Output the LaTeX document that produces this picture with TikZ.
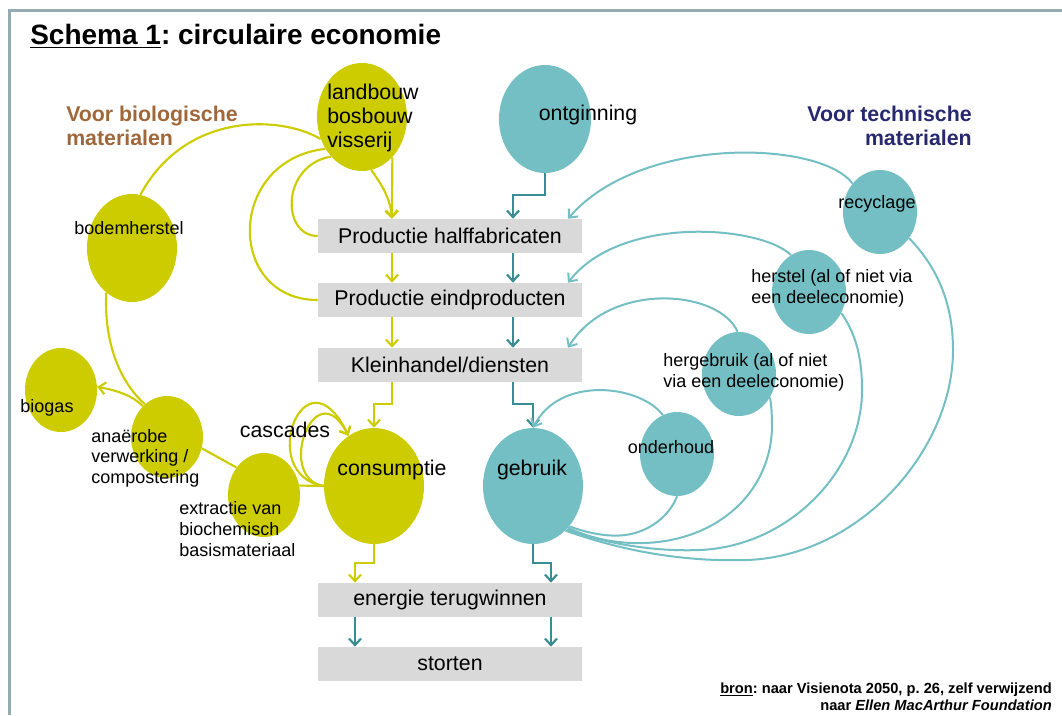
\documentclass[tikz,border=0pt]{standalone}
\usepackage{fontspec}
\setmainfont{Liberation Sans}
\usetikzlibrary{shapes.geometric,arrows.meta}
\frenchspacing

\definecolor{bioyellow}{RGB}{204,204,0}
\definecolor{techteal}{RGB}{116,191,196}
\definecolor{tealdark}{RGB}{58,140,148}
\definecolor{boxgray}{RGB}{217,217,217}
\definecolor{biobrown}{RGB}{160,104,58}
\definecolor{technavy}{RGB}{40,40,110}
\definecolor{framegray}{RGB}{148,172,176}

\begin{document}
\begin{tikzpicture}[x=0.75pt,y=0.75pt,yscale=-1,xscale=1,
  geel/.style={ellipse,fill=bioyellow,inner sep=0pt},
  blauw/.style={ellipse,fill=techteal,inner sep=0pt},
  fase/.style={fill=boxgray,minimum width=198pt,minimum height=25.5pt,inner sep=0pt,font=\fontsize{16}{18}\selectfont},
  groot/.style={inner sep=0.75pt,font=\fontsize{16}{18}\selectfont,align=left},
  klein/.style={inner sep=0.75pt,font=\fontsize{13.5}{15.5}\selectfont,align=left},
  geelpijl/.style={draw=bioyellow,line width=1.6pt,-{Straight Barb[length=5pt,width=9pt]}},
  geellijn/.style={draw=bioyellow,line width=1.6pt},
  blauwpijl/.style={draw=tealdark,line width=1.6pt,-{Straight Barb[length=5pt,width=9pt]}},
  terugpijl/.style={draw=techteal,line width=1.5pt,-{Straight Barb[length=5pt,width=9pt]}},
  teruglijn/.style={draw=techteal,line width=1.5pt}]
\useasboundingbox (0,0) rectangle (1062,715);

%frame (only top and left edge visible)
\draw[framegray,line width=2.25pt] (8,10) -- (1062,10) (9,10) -- (9,715);

%columns for the vertical arrows
\coordinate (ykol) at (392,0);
\coordinate (tkol) at (513,0);
\coordinate (rkol) at (568,0);
\coordinate (lkol) at (355,0);
\coordinate (ekol) at (551,0);

%Shape: biological cycle
\node[geel,minimum width=67.5pt,minimum height=81pt] (land) at (362,117) {};
\node[geel,minimum width=67.5pt,minimum height=81pt] (bodem) at (132,248) {};
\node[geel,minimum width=54pt,minimum height=63pt] (biogas) at (61,390) {};
\node[geel,minimum width=54pt,minimum height=61.5pt] (anaer) at (167,437) {};
\node[geel,minimum width=54pt,minimum height=63pt] (extr) at (264,495) {};
\node[geel,minimum width=75pt,minimum height=87pt] (cons) at (374,486) {};

%Shape: technical cycle
\node[blauw,minimum width=69pt,minimum height=81pt] (ontg) at (545,119) {};
\node[blauw,minimum width=55.5pt,minimum height=63pt] (recy) at (880,212) {};
\node[blauw,minimum width=55.5pt,minimum height=63pt] (herst) at (809,292) {};
\node[blauw,minimum width=55.5pt,minimum height=63pt] (hergeb) at (739,374) {};
\node[blauw,minimum width=55.5pt,minimum height=63pt] (onderh) at (677,454) {};
\node[blauw,minimum width=75pt,minimum height=87pt] (gebr) at (533,486) {};

%Shape: chain of phases
\node[fase] (half) at (450,236) {Productie halffabricaten};
\node[fase] (eind) at (450,300) {Productie eindproducten};
\node[fase] (kleinh) at (450,365) {Kleinhandel/diensten};
\node[fase] (energie) at (450,600) {energie terugwinnen};
\node[fase] (storten) at (450,664) {storten};

%Straight Lines: main flow
\draw[geelpijl] (land.-53) -- (half.north -| ykol);
\draw[geelpijl] (land.-80) .. controls (378,180) and (390,195) .. (half.north -| ykol);
\draw[blauwpijl] (ontg.south) -- ++(0,22) -| (half.north -| tkol);
\draw[geelpijl] (half.south -| ykol) -- (eind.north -| ykol);
\draw[blauwpijl] (half.south -| tkol) -- (eind.north -| tkol);
\draw[geelpijl] (eind.south -| ykol) -- (kleinh.north -| ykol);
\draw[blauwpijl] (eind.south -| tkol) -- (kleinh.north -| tkol);
\draw[geelpijl] (kleinh.south -| ykol) -- ++(0,22) -| (cons.north);
\draw[blauwpijl] (kleinh.south -| tkol) -- ++(0,22) -| (gebr.north);
\draw[geelpijl] (cons.south) -- ++(0,19) -| (energie.north -| lkol);
\draw[blauwpijl] (gebr.south) -- ++(0,19) -| (energie.north -| ekol);
\draw[blauwpijl] (energie.south -| lkol) -- (storten.north -| lkol);
\draw[blauwpijl] (energie.south -| ekol) -- (storten.north -| ekol);

%Curves: biological
\draw[geellijn] (land.208) .. controls (280,115) and (185,112) .. (bodem.81);
\draw[geellijn] (land.221) .. controls (226,160) and (226,300) .. (eind.west);
\draw[geellijn] (land.232) .. controls (281,165) and (281,236) .. (half.west);
\draw[geellijn] (bodem.240) .. controls (104,340) and (118,380) .. (anaer.124);
\draw[geelpijl] (anaer.128) .. controls (132,395) and (115,390) .. (biogas.5);
\draw[geellijn] (anaer.-18) -- (extr.135);
\draw[geellijn] (extr.15) -- (cons.west);
\draw[geelpijl] (cons.west) .. controls (255,475) and (305,345) .. (cons.117);
\draw[geelpijl] (cons.west) .. controls (275,478) and (315,370) .. (cons.117);

%Curves: technical, back into the chain
\draw[terugpijl] (recy.134) .. controls (820,140) and (640,135) .. (half.north -| rkol);
\draw[terugpijl] (herst.116) .. controls (760,225) and (620,215) .. (eind.north -| rkol);
\draw[terugpijl] (hergeb.92) .. controls (720,290) and (610,280) .. (kleinh.north -| rkol);
\draw[terugpijl] (onderh.110) .. controls (640,385) and (560,375) .. (gebr.north);

%Curves: technical, out of gebruik
\draw[teruglijn] (gebr.-48) .. controls (590,534) and (610,537) .. (625,535) .. controls (650,532) and (670,515) .. (onderh.south);
\draw[teruglijn] (gebr.-50) .. controls (590,538) and (615,544) .. (645,543) .. controls (720,540) and (772,490) .. (772,425) .. controls (772,412) and (771,404) .. (hergeb.-37);
\draw[teruglijn] (gebr.-52) .. controls (600,542) and (650,552) .. (700,550) .. controls (790,546) and (862,470) .. (862,390) .. controls (862,355) and (855,333) .. (herst.-33);
\draw[teruglijn] (gebr.-54) .. controls (620,550) and (680,562) .. (747,560) .. controls (860,556) and (953,450) .. (953,350) .. controls (953,300) and (935,265) .. (recy.-42);

% Text Node
\node[anchor=west,inner sep=0pt,font=\fontsize{21}{24}\selectfont\bfseries] (titel) at (30,36) {\underline{Schema 1}: circulaire economie};
% Text Node
\node[groot,anchor=west,text=biobrown,font=\fontsize{16}{18}\selectfont\bfseries] (biotitel) at (65,126) {Voor biologische\\materialen};
% Text Node
\node[groot,anchor=east,align=right,text=technavy,font=\fontsize{16}{18}\selectfont\bfseries] (techtitel) at (973,126) {Voor technische\\materialen};
% Text Node
\node[groot,anchor=west] (landtxt) at (326,118) {landbouw\\bosbouw\\visserij};
% Text Node
\node[groot] (ontgtxt) at (588,115) {ontginning};
% Text Node
\node[klein] (bodemtxt) at (129,228) {bodemherstel};
% Text Node
\node[klein] (biogastxt) at (47,408) {biogas};
% Text Node
\node[klein,anchor=west] (anaertxt) at (90,458) {anaërobe\\verwerking /\\compostering};
% Text Node
\node[klein,anchor=west] (extrtxt) at (178,529) {extractie van\\biochemisch\\basismateriaal};
% Text Node
\node[groot] (cascadetxt) at (285,430) {cascades};
% Text Node
\node[groot] (constxt) at (392,470) {consumptie};
% Text Node
\node[groot] (gebrtxt) at (532,470) {gebruik};
% Text Node
\node[klein] (recytxt) at (877,204) {recyclage};
% Text Node
\node[klein,anchor=west] (hersttxt) at (750,288) {herstel (al of niet via\\een deeleconomie)};
% Text Node
\node[klein,anchor=west] (hergebtxt) at (662,372) {hergebruik (al of niet\\via een deeleconomie)};
% Text Node
\node[klein] (onderhtxt) at (671,447) {onderhoud};
% Text Node
\node[anchor=east,align=right,inner sep=0pt,font=\fontsize{11}{12.8}\selectfont\bfseries] (bron) at (1052,697) {\underline{bron}: naar Visienota 2050, p. 26, zelf verwijzend\\naar \textit{Ellen MacArthur Foundation}};

\end{tikzpicture}
\end{document}
